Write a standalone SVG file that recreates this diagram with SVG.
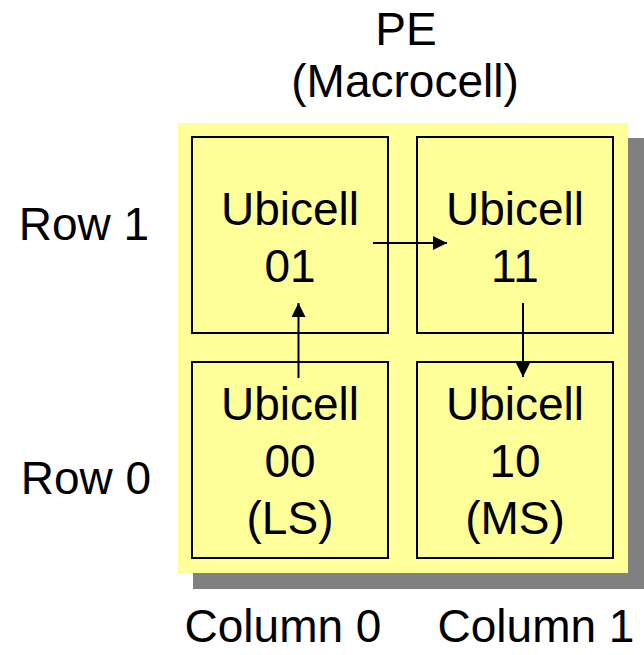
<svg xmlns="http://www.w3.org/2000/svg" width="644" height="655" viewBox="0 0 644 655">
  <defs>
    <style>
      .lbl { font-family: "Liberation Sans", Arial, sans-serif; font-size: 46px; fill: #000; text-anchor: middle; }
      .cell { fill: #FFFF99; stroke: #000; stroke-width: 2; }
      .wire { stroke: #000; stroke-width: 2; fill: none; marker-end: url(#head); }
    </style>
    <marker id="head" viewBox="0 0 10 10" refX="10" refY="5" markerWidth="7" markerHeight="7" markerUnits="strokeWidth" orient="auto">
      <path d="M0,0 L10,5 L0,10 Z" fill="#000"/>
    </marker>
  </defs>
  <rect width="644" height="655" fill="#fff"/>

  <!-- macrocell background with drop shadow -->
  <g id="macrocell">
    <rect x="193" y="138" width="451" height="451" fill="#808080"/>
    <rect x="178" y="123" width="450" height="450" fill="#FFFF99"/>
  </g>

  <!-- outside labels -->
  <g id="title">
    <text class="lbl" x="406" y="45">PE</text>
    <text class="lbl" x="405" y="97">(Macrocell)</text>
  </g>
  <g id="row-labels">
    <text class="lbl" x="84" y="240">Row 1</text>
    <text class="lbl" x="86" y="494">Row 0</text>
  </g>
  <g id="column-labels">
    <text class="lbl" x="283" y="642">Column 0</text>
    <text class="lbl" x="536" y="642">Column 1</text>
  </g>

  <!-- ubicells -->
  <g id="cell01">
    <rect class="cell" x="192" y="137" width="196" height="196"/>
    <text class="lbl" x="290" y="225">Ubicell</text>
    <text class="lbl" x="290" y="282">01</text>
  </g>
  <g id="cell11">
    <rect class="cell" x="417" y="137" width="196" height="196"/>
    <text class="lbl" x="515" y="225">Ubicell</text>
    <text class="lbl" x="515" y="282">11</text>
  </g>
  <g id="cell00">
    <rect class="cell" x="192" y="362" width="196" height="196"/>
    <text class="lbl" x="290" y="420">Ubicell</text>
    <text class="lbl" x="290" y="477">00</text>
    <text class="lbl" x="290" y="534">(LS)</text>
  </g>
  <g id="cell10">
    <rect class="cell" x="417" y="362" width="196" height="196"/>
    <text class="lbl" x="515" y="420">Ubicell</text>
    <text class="lbl" x="515" y="477">10</text>
    <text class="lbl" x="515" y="534">(MS)</text>
  </g>

  <!-- connectors -->
  <g id="connectors">
    <line class="wire" x1="298.5" y1="378" x2="298.5" y2="303"/>
    <line class="wire" x1="373" y1="243" x2="447" y2="243"/>
    <line class="wire" x1="523" y1="303" x2="523" y2="377"/>
  </g>
</svg>
